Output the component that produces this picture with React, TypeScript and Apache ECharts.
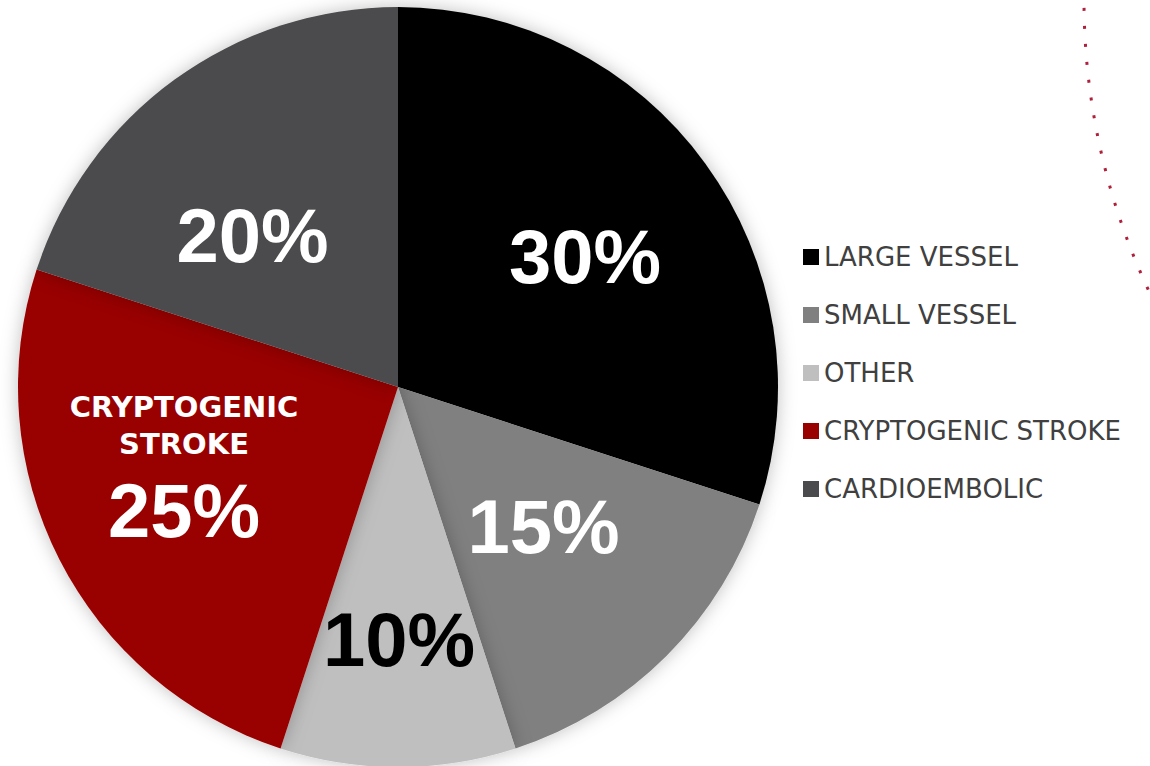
import React, { useEffect, useRef } from "react";
import * as echarts from "echarts";

const categories = ["LARGE VESSEL", "SMALL VESSEL", "OTHER", "CRYPTOGENIC STROKE", "CARDIOEMBOLIC"];
const values = [30, 15, 10, 25, 20];
const colors = ["#000000", "#808080", "#bfbfbf", "#990000", "#4b4b4d"];
const labelColors = ["#ffffff", "#ffffff", "#000000", "#ffffff", "#ffffff"];
const labelOffsets = [
  [31, -17],
  [9, 3],
  [1, 59],
  [-42, -1],
  [-32, 5],
];

export default function App() {
  const ref = useRef<HTMLDivElement>(null);
  useEffect(() => {
    document.body.style.margin = "0";
    const chart = echarts.init(ref.current!, null, { renderer: "svg" });
    chart.setOption({
      animation: false,
      backgroundColor: "#ffffff",
      legend: {
        orient: "vertical",
        left: 803,
        top: 244,
        padding: 0,
        icon: "rect",
        itemWidth: 16,
        itemHeight: 16,
        itemGap: 32,
        data: categories,
        textStyle: {
          fontFamily: "DejaVu Sans",
          fontSize: 26,
          lineHeight: 26,
          color: "#404040",
        },
      },
      graphic: [
        {
          type: "arc",
          shape: { cx: 1769, cy: 0, r: 685, startAngle: 2.6, endAngle: Math.PI + 0.01 },
          style: { stroke: "#b0203c", lineWidth: 3, lineDash: [3, 15], fill: "none" },
          silent: true,
        },
      ],
      series: [
        {
          type: "pie",
          center: [398, 387],
          radius: [0, 380],
          startAngle: 90,
          clockwise: true,
          silent: true,
          itemStyle: { shadowBlur: 18, shadowColor: "rgba(0,0,0,0.25)" },
          labelLine: { show: false },
          label: {
            show: true,
            position: "inside",
            formatter: (p: any) =>
              p.dataIndex === 3
                ? "{n|CRYPTOGENIC}\n{n|STROKE}\n{v|" + p.value + "%}"
                : "{v|" + p.value + "%}",
            rich: {
              v: { fontFamily: "Liberation Sans", fontWeight: "bold", fontSize: 76, lineHeight: 96 },
              n: { fontFamily: "DejaVu Sans", fontWeight: "bold", fontSize: 29, lineHeight: 37 },
            },
          },
          labelLayout: (params: any) => ({
            dx: labelOffsets[params.dataIndex][0],
            dy: labelOffsets[params.dataIndex][1],
          }),
          data: categories.map((name, i) => ({
            name,
            value: values[i],
            itemStyle: { color: colors[i] },
            label: {
              color: labelColors[i],
              rich: {
                v: { color: labelColors[i] },
                n: { color: labelColors[i] },
              },
            },
          })),
        },
      ],
    });
    return () => chart.dispose();
  }, []);
  return <div ref={ref} style={{ width: 1150, height: 766 }} />;
}
